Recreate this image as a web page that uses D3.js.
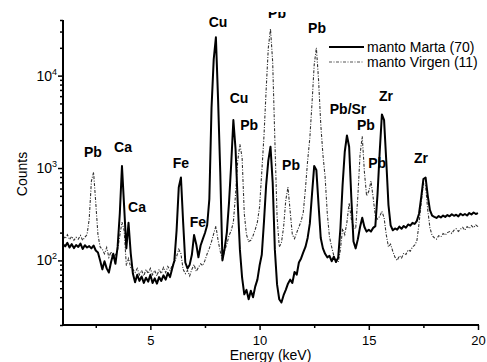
<!DOCTYPE html>
<html><head><meta charset="utf-8">
<script src="https://cdn.jsdelivr.net/npm/d3@7"></script>
<style>body{margin:0;background:#fff}svg{display:block}text{font-family:"Liberation Sans",Arial,sans-serif}</style>
</head><body><svg id="c" width="487" height="362"></svg>
<script>
const energy = [1.0,1.1,1.2,1.3,1.4,1.5,1.6,1.7,1.8,1.9,2.0,2.1,2.2,2.3,2.4,2.5,2.6,2.7,2.8,2.9,3.0,3.1,3.2,3.3,3.4,3.5,3.6,3.7,3.8,3.9,4.0,4.1,4.2,4.3,4.4,4.5,4.6,4.7,4.8,4.9,5.0,5.1,5.2,5.3,5.4,5.5,5.6,5.7,5.8,5.9,6.0,6.1,6.2,6.3,6.4,6.5,6.6,6.7,6.8,6.9,7.0,7.1,7.2,7.3,7.4,7.5,7.6,7.7,7.8,7.9,8.0,8.1,8.2,8.3,8.4,8.5,8.6,8.7,8.8,8.9,9.0,9.1,9.2,9.3,9.4,9.5,9.6,9.7,9.8,9.9,10.0,10.1,10.2,10.3,10.4,10.5,10.6,10.7,10.8,10.9,11.0,11.1,11.2,11.3,11.4,11.5,11.6,11.7,11.8,11.9,12.0,12.1,12.2,12.3,12.4,12.5,12.6,12.7,12.8,12.9,13.0,13.1,13.2,13.3,13.4,13.5,13.6,13.7,13.8,13.9,14.0,14.1,14.2,14.3,14.4,14.5,14.6,14.7,14.8,14.9,15.0,15.1,15.2,15.3,15.4,15.5,15.6,15.7,15.8,15.9,16.0,16.1,16.2,16.3,16.4,16.5,16.6,16.7,16.8,16.9,17.0,17.1,17.2,17.3,17.4,17.5,17.6,17.7,17.8,17.9,18.0,18.1,18.2,18.3,18.4,18.5,18.6,18.7,18.8,18.9,19.0,19.1,19.2,19.3,19.4,19.5,19.6,19.7,19.8,19.9,20.0];

const marta = [150,142,155,138,150,136,147,140,152,133,146,138,143,135,145,128,122,100,80,98,82,74,96,118,92,140,320,1050,380,135,255,120,72,58,70,60,67,57,65,59,70,57,64,56,66,60,69,62,73,66,82,100,210,620,790,260,95,82,90,115,188,150,108,145,170,198,240,460,4500,15000,26000,5500,900,100,135,200,420,1100,3300,1600,420,130,65,43,48,38,47,40,52,62,88,115,260,650,1200,1700,700,130,55,38,35,42,48,56,62,57,75,70,95,105,122,140,175,250,520,1050,950,400,175,135,118,108,112,98,110,96,108,220,650,1500,2250,1700,480,160,135,170,230,290,230,205,215,205,225,235,520,1500,3800,3300,1200,400,240,212,222,215,232,220,236,226,245,238,255,248,268,320,480,760,790,500,350,305,296,288,302,292,306,296,310,300,316,304,312,300,320,308,318,306,326,314,330,318,325];

const virgen = [185,172,190,168,182,165,178,170,186,165,178,190,280,720,900,420,190,140,132,118,138,108,124,104,116,130,185,260,210,88,105,84,80,74,82,70,78,68,80,72,82,70,78,68,80,72,84,74,86,78,88,96,110,132,118,80,72,78,68,80,90,76,84,92,88,100,118,135,160,195,235,165,125,102,128,150,185,210,260,520,1200,1800,1300,320,190,160,165,185,215,260,380,900,2200,7000,20000,32000,14000,2000,300,140,155,230,450,620,340,190,172,200,230,265,330,600,1200,2100,5000,13000,20000,9000,3000,1400,800,320,180,140,112,100,96,130,220,190,260,420,280,230,220,500,1400,2200,900,500,560,720,480,300,280,300,340,290,190,140,150,125,108,100,112,106,120,116,130,126,140,146,162,250,420,680,640,350,225,186,176,170,185,180,195,188,200,205,196,212,220,206,218,228,212,232,222,238,226,242,232];

const seriesNames = ["manto Marta (70)", "manto Virgen (11)"];
const xMajorTicks = [5, 10, 15, 20];
const xMinorTicks = [2.5, 7.5, 12.5, 17.5];
const yMajorTicks = [100, 1000, 10000];
const yMajorExp = ["2", "3", "4"];
const yMinorTicks = [20,30,40,50,60,70,80,90,200,300,400,500,600,700,800,900,2000,3000,4000,5000,6000,7000,8000,9000,20000,30000,40000];

const labelText = ["Pb","Ca","Ca","Fe","Fe","Cu","Cu","Pb","Pb","Pb","Pb","Pb/Sr","Pb","Zr","Pb","Zr"];
const labelEnergy = [2.37,3.75,4.39,6.40,7.18,8.10,9.06,9.52,10.80,12.63,11.44,14.05,14.87,15.79,15.38,17.39];
const labelCounts = [1315,1490,334,1000,230,33600,5050,2576,42000,28900,950,3840,2576,5320,1000,1133];

const svg = d3.select("#c");
const x = d3.scaleLinear().domain([1, 20]).range([63, 478]);
const y = d3.scaleLog().domain([20, 40000]).range([325, 20]);

// peak labels (drawn under the curves)
svg.append("clipPath").attr("id","lblclip").append("rect")
  .attr("x",0).attr("y",12).attr("width",487).attr("height",350);
svg.append("g").attr("clip-path","url(#lblclip)")
  .selectAll("text").data(labelText).join("text")
  .attr("x",(d,i)=>x(labelEnergy[i])).attr("y",(d,i)=>y(labelCounts[i]))
  .attr("text-anchor","middle").attr("font-weight","bold").attr("font-size",14)
  .attr("fill","#000").text(d=>d);

const line = d3.line().x((d,i)=>x(energy[i])).y(d=>y(d));

svg.append("path").datum(virgen).attr("d",line)
  .attr("fill","none").attr("stroke","#333").attr("stroke-width",1.1)
  .attr("stroke-dasharray","3,1.5,1,1.5");
svg.append("path").datum(marta).attr("d",line)
  .attr("fill","none").attr("stroke","#000").attr("stroke-width",2)
  .attr("stroke-linejoin","round");

// axes
const gx = svg.append("g").attr("transform","translate(0,325)");
gx.call(d3.axisBottom(x).tickValues(xMinorTicks).tickSize(3).tickSizeOuter(0).tickFormat(""));
gx.call(g=>g.selectAll(".domain").remove());
const gx2 = svg.append("g").attr("transform","translate(0,325)")
  .call(d3.axisBottom(x).tickValues(xMajorTicks).tickSize(5).tickPadding(6).tickSizeOuter(0).tickFormat(d3.format("d")));
gx2.select(".domain").attr("stroke-width",2).attr("d","M62,0H479");
svg.selectAll("g.tick line").attr("stroke-width",1.5);
gx2.selectAll("text").attr("font-size",13).attr("fill","#000").attr("font-family",'"Liberation Sans",Arial,sans-serif');

const gy = svg.append("g").attr("transform","translate(63,0)");
gy.call(d3.axisLeft(y).tickValues(yMinorTicks).tickSize(3).tickSizeOuter(0).tickFormat(""));
gy.select(".domain").remove();
const gy2 = svg.append("g").attr("transform","translate(63,0)")
  .call(d3.axisLeft(y).tickValues(yMajorTicks).tickSize(5).tickSizeOuter(0).tickFormat(""));
gy2.select(".domain").attr("stroke-width",2).attr("d","M0,20V326");
svg.selectAll("g.tick line").attr("stroke-width",1.5);

const yl = svg.append("g").selectAll("text").data(yMajorTicks).join("text")
  .attr("x",57).attr("y",d=>y(d)+5).attr("text-anchor","end").attr("font-size",14).attr("fill","#000");
yl.append("tspan").text("10");
yl.append("tspan").attr("dy",-6).attr("font-size",9).text((d,i)=>yMajorExp[i]);

// axis titles
svg.append("text").attr("x",270.5).attr("y",360).attr("text-anchor","middle")
  .attr("font-size",14).text("Energy (keV)");
svg.append("text").attr("transform","translate(27,174) rotate(-90)").attr("text-anchor","middle")
  .attr("font-size",14).text("Counts");

// legend
const lg = svg.append("g");
const styles = [{s:"#000",w:2,da:null},{s:"#555",w:1.1,da:"3,1.5,1,1.5"}];
seriesNames.forEach((n,i)=>{
  const yy = 47 + i*15;
  lg.append("line").attr("x1",329).attr("x2",364).attr("y1",yy).attr("y2",yy)
    .attr("stroke",styles[i].s).attr("stroke-width",styles[i].w).attr("stroke-dasharray",styles[i].da);
  lg.append("text").attr("x",367).attr("y",yy+5).attr("font-size",14).attr("fill","#000").text(n);
});
</script></body></html>
